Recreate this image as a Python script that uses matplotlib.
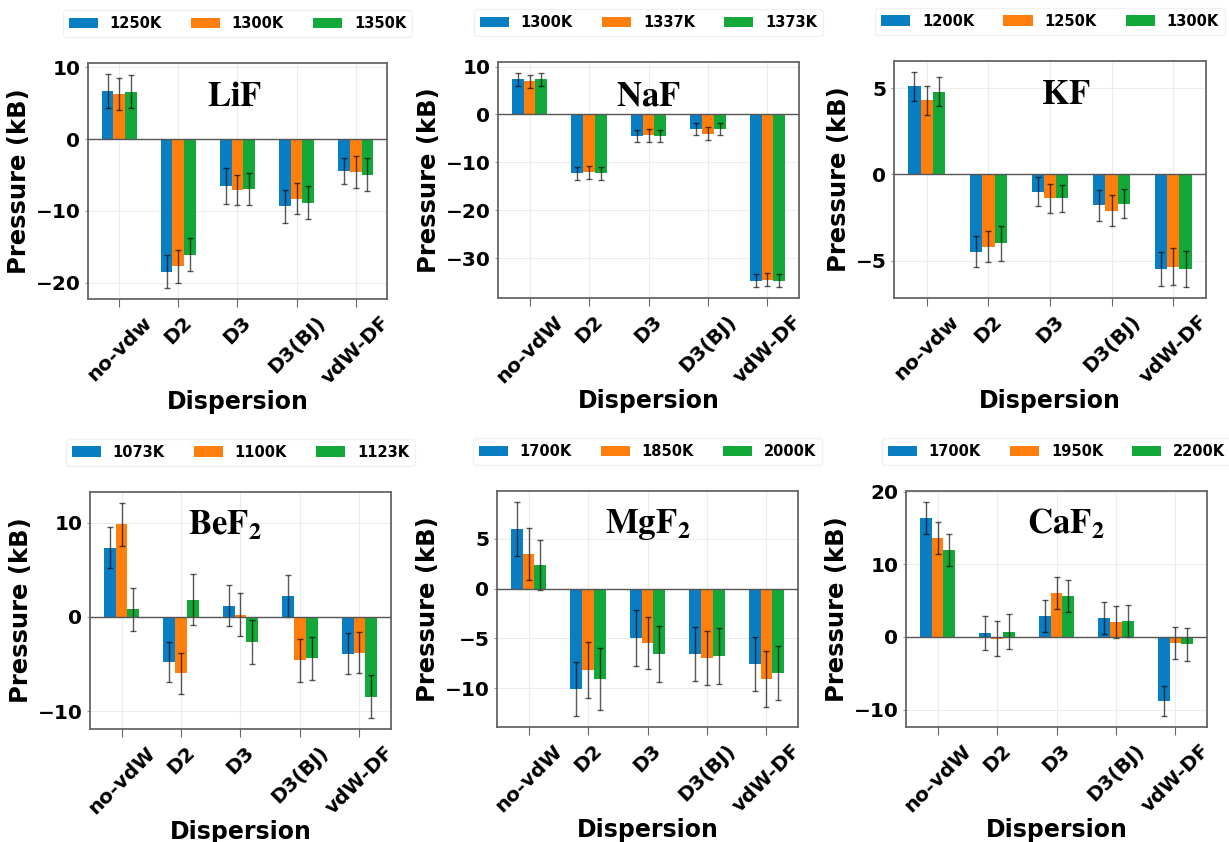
import matplotlib
matplotlib.use('Agg')
import matplotlib.pyplot as plt
from matplotlib.ticker import MultipleLocator
import numpy as np

plt.rcParams['font.family'] = ['DejaVu Sans']
plt.rcParams['font.weight'] = 'bold'
plt.rcParams['mathtext.fontset'] = 'stix'

# dispersion schemes on the x axis
methods_vdw = ['no-vdw', 'D2', 'D3', 'D3(BJ)', 'vdW-DF']
methods_vdW = ['no-vdW', 'D2', 'D3', 'D3(BJ)', 'vdW-DF']

# LiF
lif_temps = ['1250K', '1300K', '1350K']
lif_p = [[6.7, -18.5, -6.6, -9.4, -4.4],
         [6.3, -17.7, -7.1, -8.3, -4.6],
         [6.6, -16.1, -7.0, -8.9, -5.0]]
lif_err = [[2.4, 2.3, 2.5, 2.3, 1.8],
           [2.2, 2.3, 2.1, 2.2, 2.2],
           [2.3, 2.3, 2.2, 2.3, 2.3]]

# NaF
naf_temps = ['1300K', '1337K', '1373K']
naf_p = [[7.3, -12.3, -4.5, -3.1, -34.7],
         [6.9, -12.1, -4.4, -4.0, -34.5],
         [7.3, -12.3, -4.5, -3.1, -34.7]]
naf_err = [[1.4, 1.4, 1.3, 1.3, 1.4],
           [1.4, 1.4, 1.3, 1.3, 1.4],
           [1.4, 1.4, 1.3, 1.3, 1.4]]

# KF
kf_temps = ['1200K', '1250K', '1300K']
kf_p = [[5.1, -4.5, -1.0, -1.8, -5.5],
        [4.3, -4.2, -1.4, -2.1, -5.35],
        [4.8, -4.0, -1.4, -1.7, -5.5]]
kf_err = [[0.85, 0.9, 0.85, 0.9, 1.0],
          [0.85, 0.9, 0.85, 0.9, 1.05],
          [0.85, 1.0, 0.8, 0.85, 1.05]]

# BeF2
bef2_temps = ['1073K', '1100K', '1123K']
bef2_p = [[7.35, -4.8, 1.2, 2.2, -3.9],
          [9.8, -6.0, 0.25, -4.6, -3.8],
          [0.8, 1.8, -2.65, -4.4, -8.45]]
bef2_err = [[2.15, 2.1, 2.2, 2.2, 2.2],
            [2.3, 2.2, 2.3, 2.3, 2.2],
            [2.3, 2.7, 2.3, 2.3, 2.3]]

# MgF2
mgf2_temps = ['1700K', '1850K', '2000K']
mgf2_p = [[6.0, -10.1, -4.95, -6.6, -7.6],
          [3.5, -8.2, -5.5, -7.0, -9.1],
          [2.35, -9.1, -6.6, -6.8, -8.5]]
mgf2_err = [[2.7, 2.7, 2.8, 2.7, 2.7],
            [2.6, 2.8, 2.6, 2.7, 2.8],
            [2.5, 3.1, 2.8, 2.8, 2.7]]

# CaF2
caf2_temps = ['1700K', '1950K', '2200K']
caf2_p = [[16.4, 0.55, 2.9, 2.55, -8.8],
          [13.55, -0.25, 6.0, 2.0, -0.85],
          [12.0, 0.7, 5.6, 2.15, -1.0]]
caf2_err = [[2.2, 2.3, 2.2, 2.2, 2.1],
            [2.2, 2.4, 2.2, 2.2, 2.2],
            [2.2, 2.4, 2.2, 2.2, 2.3]]

colors = ['#0a7ec2', '#ff7f0e', '#12a83a']

# (title, xticklabels, temps, values, errors, axes rect in px, title x, ytick step)
panels = [
    (r'$\mathbf{LiF}$', methods_vdw, lif_temps, lif_p, lif_err, (88, 387, 63, 299), 0.49, 10),
    (r'$\mathbf{NaF}$', methods_vdW, naf_temps, naf_p, naf_err, (498, 799, 62, 298), 0.5, 10),
    (r'$\mathbf{KF}$', methods_vdw, kf_temps, kf_p, kf_err, (894, 1206, 61, 298), 0.55, 5),
    (r'$\mathbf{BeF_2}$', methods_vdW, bef2_temps, bef2_p, bef2_err, (90, 391, 492, 729), 0.45, 10),
    (r'$\mathbf{MgF_2}$', methods_vdW, mgf2_temps, mgf2_p, mgf2_err, (497, 798, 491, 727), 0.5, 5),
    (r'$\mathbf{CaF_2}$', methods_vdW, caf2_temps, caf2_p, caf2_err, (906, 1207, 491, 727), 0.53, 10),
]

W, H = 1229, 842
fig = plt.figure(figsize=(W / 100, H / 100), dpi=100)

width = 0.2
x = np.arange(5)

for title, labels, temps, vals, errs, (l, r, t, b), tx, step in panels:
    ax = fig.add_axes([l / W, 1 - b / H, (r - l) / W, (b - t) / H])
    for i in range(3):
        ax.bar(x + (i - 1) * width, vals[i], width, yerr=errs[i], color=colors[i],
               label=temps[i], error_kw=dict(ecolor='black', elinewidth=1.0,
                                             capsize=2, capthick=1.0, alpha=0.65),
               zorder=2)
    ax.axhline(0, color='#555555', linewidth=1.0, zorder=3)
    ax.yaxis.set_major_locator(MultipleLocator(step))
    ax.grid(True, color='#ececec', linewidth=0.8, zorder=0)
    ax.set_axisbelow(True)
    for s in ax.spines.values():
        s.set_color('#666666')
        s.set_linewidth(1.3)
    ax.set_xticks(x)
    ax.set_xticklabels(labels, rotation=45, fontsize=14.5, fontweight='bold',
                       ha='center', va='top')
    ax.tick_params(axis='x', length=6, color='#666666', pad=4)
    ax.tick_params(axis='y', length=2, color='#999999', labelsize=14.5)
    for lab in ax.get_yticklabels():
        lab.set_fontweight('bold')
    ax.set_xlabel('Dispersion', fontsize=17, fontweight='bold', labelpad=1)
    ax.set_ylabel('Pressure (kB)', fontsize=17.5, fontweight='bold', labelpad=3)
    ax.text(tx, 0.86, title, transform=ax.transAxes, fontsize=25,
            ha='center', va='center')
    leg = ax.legend(loc='lower center', bbox_to_anchor=(0.5, 1.08), ncol=3,
                    fontsize=10.5, frameon=True, columnspacing=2.0,
                    handlelength=2.0, handleheight=0.75)
    leg.get_frame().set_edgecolor('#eeeeee')
    for txt in leg.get_texts():
        txt.set_fontweight('bold')

fig.savefig('out.png', dpi=100)
